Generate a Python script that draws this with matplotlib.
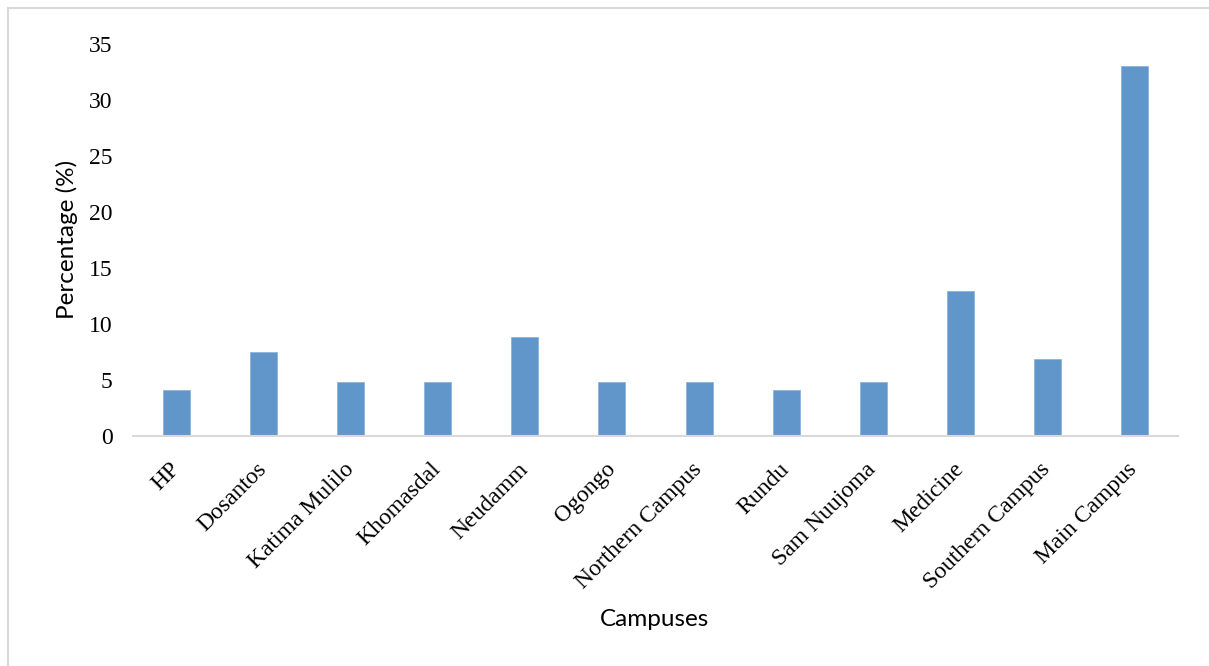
import matplotlib
matplotlib.use("Agg")
import matplotlib.pyplot as plt
from matplotlib.lines import Line2D

campuses = ["HP", "Dosantos", "Katima Mulilo", "Khomasdal", "Neudamm", "Ogongo",
            "Northern Campus", "Rundu", "Sam Nuujoma", "Medicine", "Southern Campus",
            "Main Campus"]
percentages = [4.1, 7.5, 4.8, 4.8, 8.8, 4.8, 4.8, 4.1, 4.8, 12.9, 6.8, 33.0]
y_ticks = [0, 5, 10, 15, 20, 25, 30, 35]

W, H, DPI = 1209, 666, 100
fig = plt.figure(figsize=(W / DPI, H / DPI), dpi=DPI)
fig.patch.set_facecolor("white")

# light frame along the top and left edges
fig.add_artist(Line2D([8 / W, 1.0], [1 - 8 / H, 1 - 8 / H], transform=fig.transFigure,
                      color="#D9D9D9", lw=1.5))
fig.add_artist(Line2D([8 / W, 8 / W], [0.0, 1 - 8 / H], transform=fig.transFigure,
                      color="#D9D9D9", lw=1.5))

left, right = 133.3, 1177.7
top, bottom = 43.5, 435.5
ax = fig.add_axes([left / W, 1 - bottom / H, (right - left) / W, (bottom - top) / H])

x = range(len(campuses))
ax.bar(x, percentages, width=0.31, color="#6196CA", edgecolor="#8DB3DB", linewidth=0.6)

ax.set_xlim(-0.5, len(campuses) - 0.5)
ax.set_ylim(0, 35)
ax.set_yticks(y_ticks)
ax.set_yticklabels([str(v) for v in y_ticks], fontfamily="Liberation Serif", fontsize=17)
ax.set_xticks(list(x))
ax.set_xticklabels(campuses, fontfamily="Liberation Serif", fontsize=17,
                   rotation=45, ha="right", va="center", rotation_mode="anchor")

ax.tick_params(axis="y", length=0, pad=15)
ax.tick_params(axis="x", length=0, pad=22)

for side in ("top", "right", "left"):
    ax.spines[side].set_visible(False)
ax.spines["bottom"].set_color("#D9D9D9")
ax.spines["bottom"].set_linewidth(1.5)

ax.set_xlabel("Campuses", fontfamily="Lato", fontsize=17.5)
ax.set_ylabel("Percentage (%)", fontfamily="Lato", fontsize=17.5)
ax.xaxis.set_label_coords(0.4995, (bottom - 619) / (bottom - top))
ax.yaxis.set_label_coords((67 - left) / (right - left), 0.5)
ax.xaxis.label.set_va("center")
ax.yaxis.label.set_va("center")

fig.savefig("out.png", dpi=DPI)
